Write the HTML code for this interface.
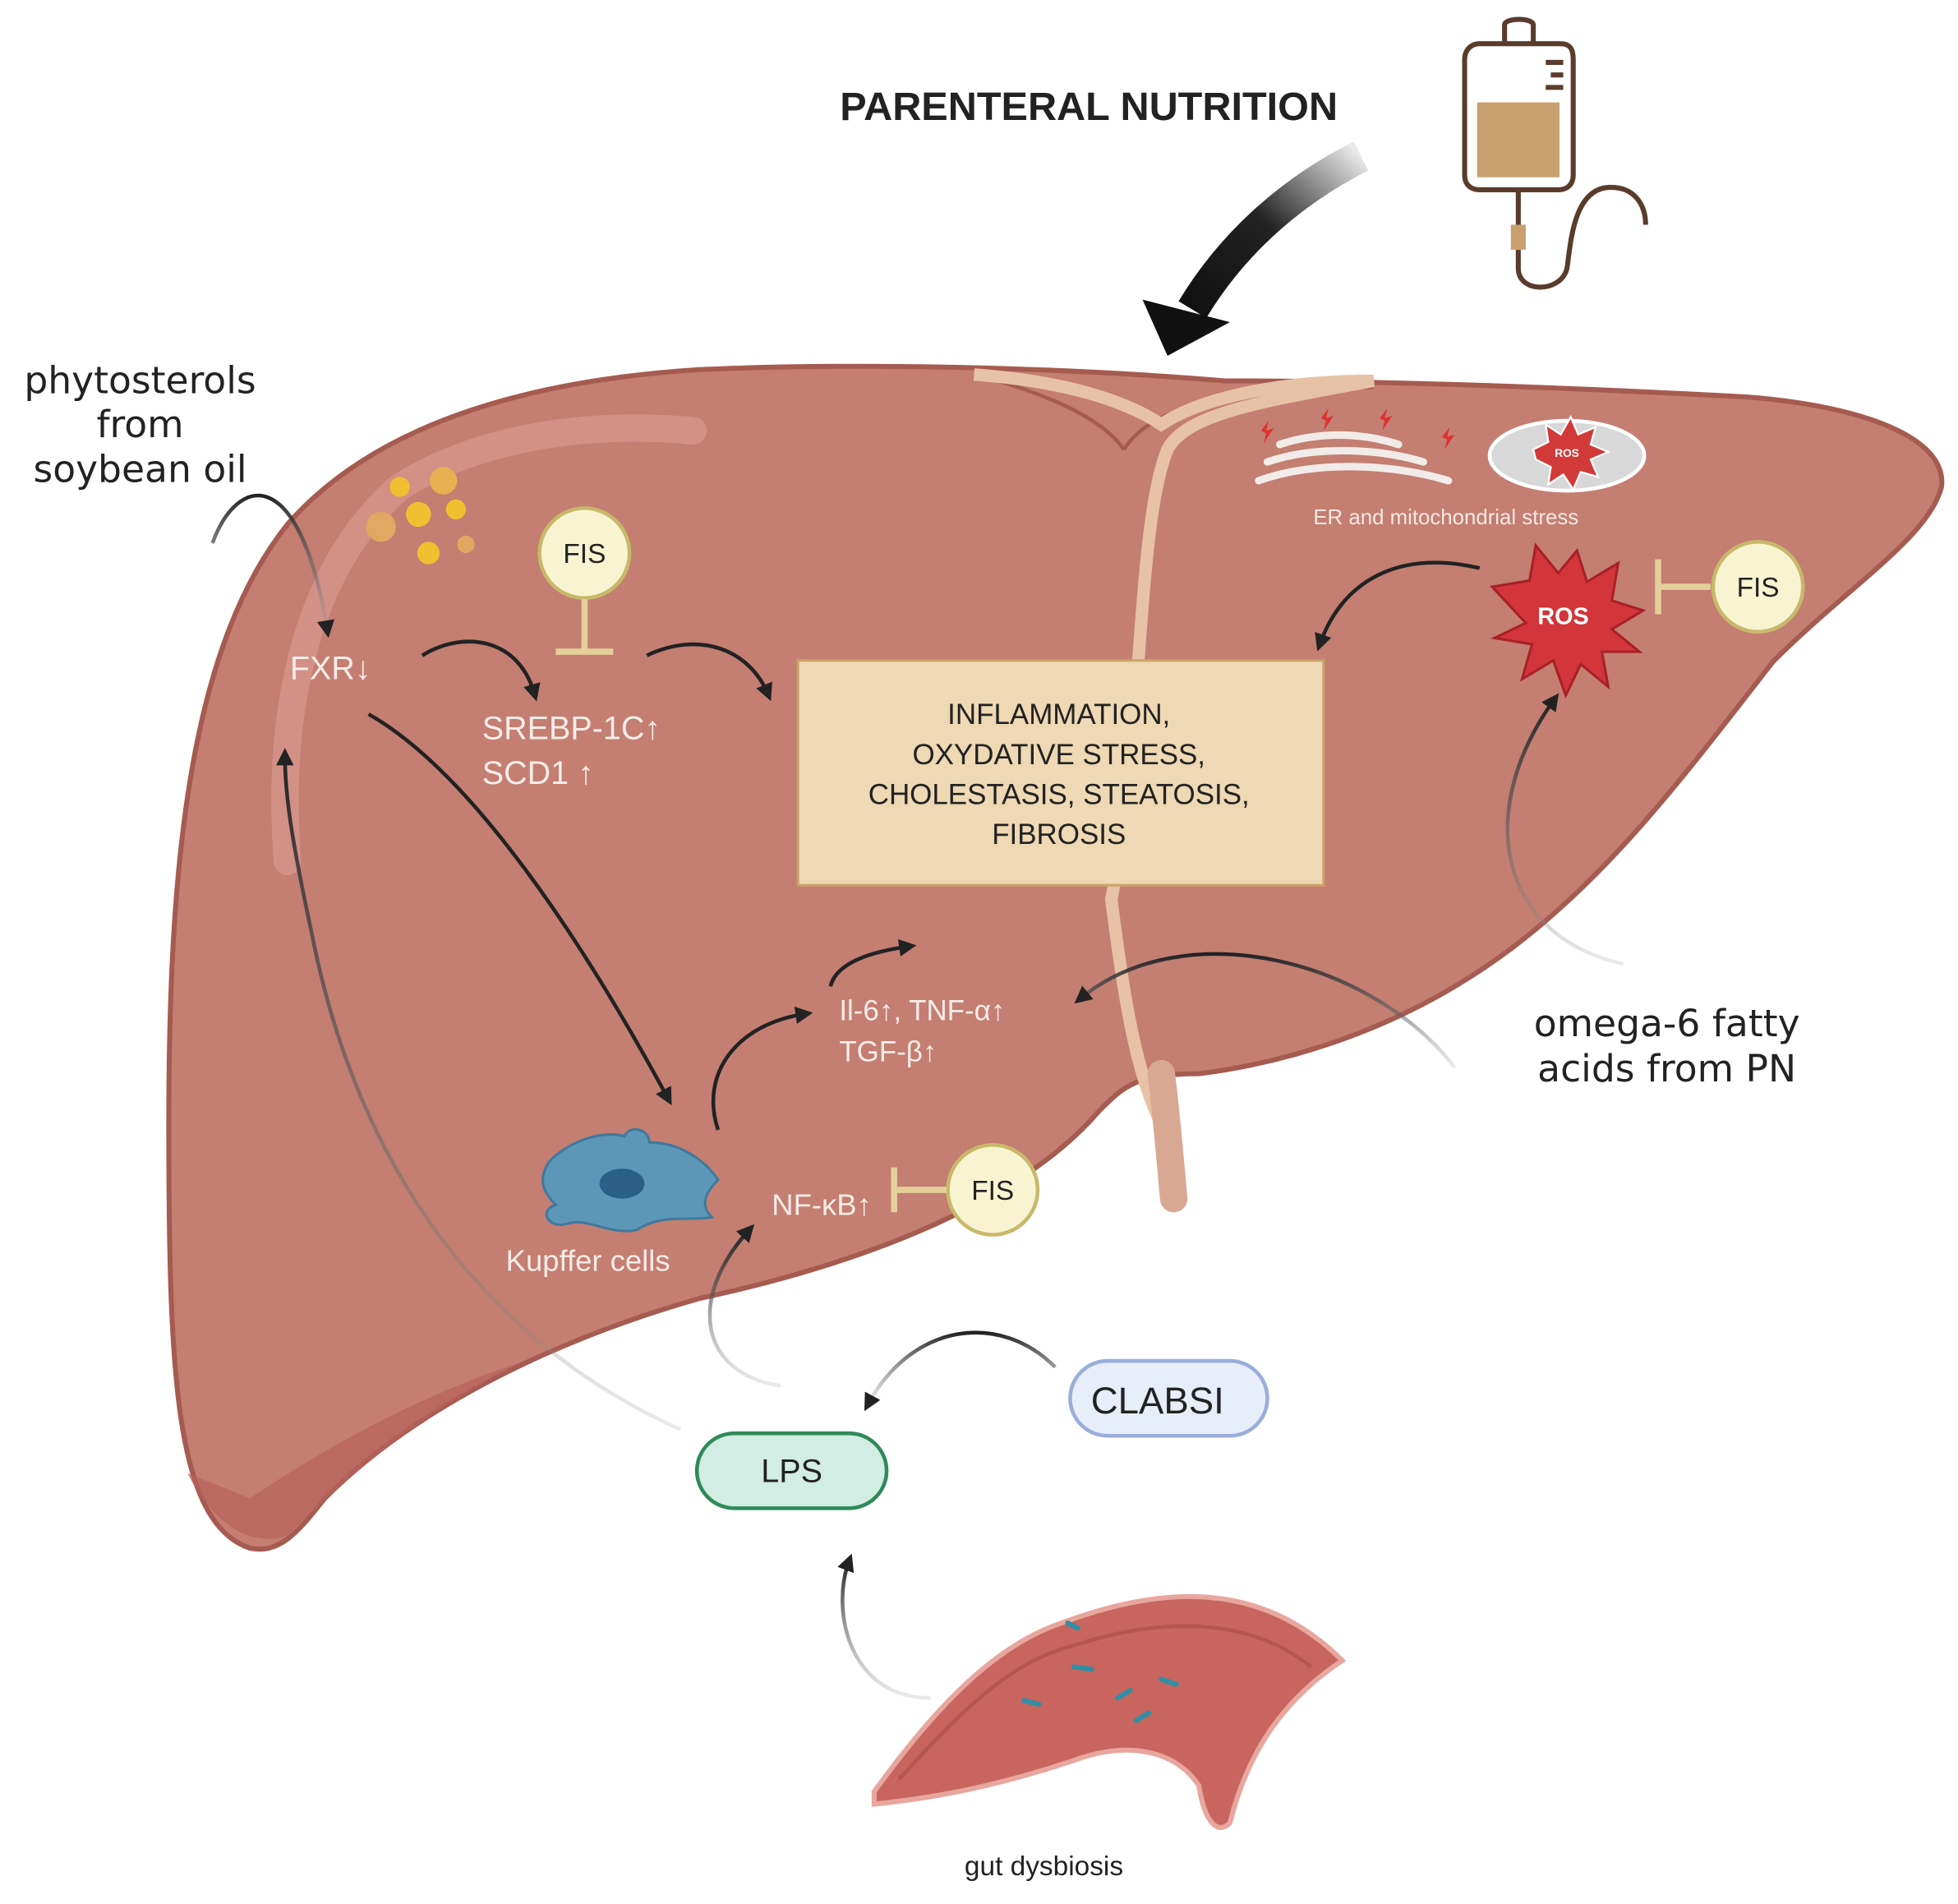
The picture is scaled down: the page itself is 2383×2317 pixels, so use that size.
<!DOCTYPE html>
<html><head><meta charset="utf-8"><style>
html,body{margin:0;padding:0;background:#fff;}
svg{display:block;}
text{font-family:"Liberation Sans","DejaVu Sans",sans-serif;}
</style></head><body>
<svg width="2383" height="2317" viewBox="0 0 1568 1525" xmlns="http://www.w3.org/2000/svg">
<defs>
<marker id="ah" markerWidth="16" markerHeight="16" refX="8" refY="7" orient="auto" markerUnits="userSpaceOnUse"><path d="M0,0 L14,7 L0,14 z" fill="#222"/></marker>
<linearGradient id="fadeL" x1="0" y1="1" x2="0" y2="0"><stop offset="0" stop-color="#999" stop-opacity="0.2"/><stop offset="1" stop-color="#222"/></linearGradient>
<linearGradient id="bigA" x1="1" y1="0" x2="0" y2="1"><stop offset="0" stop-color="#222" stop-opacity="0.1"/><stop offset="0.5" stop-color="#222"/><stop offset="1" stop-color="#111"/></linearGradient>
</defs>
<rect width="1568" height="1525" fill="#fff"/>
<path d="M200,1240 C140,1220 135,1100 135,900 C135,700 150,520 230,420 C300,340 420,305 560,296 C700,290 860,295 980,305 C1100,305 1250,310 1400,318 C1490,325 1560,350 1555,390 C1545,430 1480,470 1420,530 C1350,620 1290,700 1210,760 C1130,820 1040,850 960,860 C910,860 900,870 880,890 C820,960 700,1010 560,1040 C420,1080 320,1140 260,1200 C240,1225 225,1245 200,1240 Z" fill="#c47e72" stroke="#a65b50" stroke-width="4"/>
<path d="M150,1180 C170,1220 200,1240 230,1230 C280,1180 340,1130 420,1090 C330,1120 260,1160 200,1200 Z" fill="#b8625a" opacity="0.7"/>
<path d="M230,690 C220,560 250,450 320,390 C400,340 500,340 555,345" stroke="#d89890" stroke-width="22" fill="none" stroke-linecap="round" opacity="0.7"/>
<path d="M900,360 C880,330 820,310 780,300 M900,360 C920,330 960,315 1100,310" stroke="#a65b50" stroke-width="3" fill="none"/>
<path d="M780,300 C850,305 900,320 930,340 C960,320 1020,305 1100,305 C1020,320 950,330 935,360 C910,420 915,600 890,720 C900,800 910,860 930,900 C940,930 945,950 945,960" stroke="#e7c2a6" stroke-width="10" fill="none"/>
<path d="M930,860 C935,900 938,940 940,960" stroke="#d9a893" stroke-width="22" fill="none" stroke-linecap="round"/>
<g fill="#f0c030"><circle cx="320" cy="390" r="8"/><circle cx="355" cy="385" r="11" fill="#e8b050"/><circle cx="335" cy="412" r="10"/><circle cx="365" cy="408" r="8"/><circle cx="305" cy="422" r="12" fill="#e0a860"/><circle cx="343" cy="443" r="9"/><circle cx="373" cy="436" r="7" fill="#e0a860"/></g>
<g stroke="#f2ece8" stroke-width="6" fill="none" stroke-linecap="round"><path d="M1008,385 C1050,370 1110,370 1160,385"/><path d="M1015,370 C1050,358 1100,358 1140,370"/><path d="M1025,356 C1055,346 1090,346 1120,356"/></g>
<g fill="#e03030"><path d="M1010,345 l6,-8 -2,8 6,-2 -8,12 2,-8z"/><path d="M1058,335 l6,-8 -2,8 6,-2 -8,12 2,-8z"/><path d="M1105,335 l6,-8 -2,8 6,-2 -8,12 2,-8z"/><path d="M1155,350 l6,-8 -2,8 6,-2 -8,12 2,-8z"/></g>
<ellipse cx="1255" cy="365" rx="62" ry="28" fill="#d8d8d8" stroke="#fff" stroke-width="3"/>
<path d="M1228,360 l12,-6 -2,-14 12,8 8,-14 6,14 14,-6 -4,14 14,6 -14,6 6,14 -14,-4 -6,14 -8,-12 -12,8 2,-14 -12,-6z" fill="#d23a3a" stroke="#fff" stroke-width="1.5"/>
<text x="1255" y="366" font-size="9" fill="#fff" text-anchor="middle" font-weight="bold">ROS</text>
<text x="1158" y="420" font-size="17" fill="#f6e8e4" text-anchor="middle">ER and mitochondrial stress</text>
<path d="M1195,470 l30,-5 5,-28 18,22 15,-18 8,25 25,-15 -5,30 25,8 -25,15 22,18 -30,0 5,28 -22,-18 -12,25 -10,-28 -25,15 8,-28 -30,-5 25,-12z" fill="#d2363a" stroke="#a82025" stroke-width="2"/>
<text x="1252" y="500" font-size="19" fill="#fff" text-anchor="middle" font-weight="bold">ROS</text>
<g stroke="#c8b96a" stroke-width="3" fill="#f8f4d2">
<circle cx="468" cy="443" r="36"/><circle cx="1408" cy="470" r="36"/><circle cx="795" cy="953" r="36"/></g>
<g font-size="22" fill="#222" text-anchor="middle"><text x="468" y="451">FIS</text><text x="1408" y="478">FIS</text><text x="795" y="961">FIS</text></g>
<g stroke="#e5cf9a" stroke-width="5" fill="none"><path d="M468,480 V522 M445,522 H491"/><path d="M1370,470 H1328 M1328,448 V492"/><path d="M758,953 H716 M716,935 V971"/></g>
<rect x="639" y="529" width="421" height="180" fill="#efd8b4" stroke="#c9a46a" stroke-width="2"/>
<g font-size="23" fill="#222" text-anchor="middle"><text x="848" y="580">INFLAMMATION,</text><text x="848" y="612">OXYDATIVE STRESS,</text><text x="848" y="644">CHOLESTASIS, STEATOSIS,</text><text x="848" y="676">FIBROSIS</text></g>
<g font-size="26" fill="#f7ece8"><text x="232" y="544">FXR↓</text><text x="386" y="592">SREBP-1C↑</text><text x="386" y="628">SCD1 ↑</text><text x="672" y="817" font-size="23">Il-6↑, TNF-α↑</text><text x="672" y="850" font-size="23">TGF-β↑</text><text x="618" y="973" font-size="24">NF-κB↑</text><text x="405" y="1018" font-size="24">Kupffer cells</text></g>
<path d="M440,930 C455,915 480,905 500,910 C505,900 520,905 520,915 C545,915 565,930 575,945 C565,955 560,965 570,975 C550,978 530,972 510,985 C490,990 470,975 455,980 C440,985 430,970 445,965 C435,955 430,945 440,930 Z" fill="#5d97b8" stroke="#3f7a9c" stroke-width="2"/>
<ellipse cx="498" cy="948" rx="18" ry="12" fill="#2a5f86"/>
<g stroke="#222" stroke-width="3" fill="none" marker-end="url(#ah)">
<path d="M338,525 C370,505 415,510 428,556"/>
<path d="M518,525 C560,505 600,520 615,556"/>
<path d="M295,572 C380,620 470,760 535,880"/>
<path d="M575,905 C560,860 590,820 645,812"/>
<path d="M665,790 C670,770 700,762 728,758"/>
<path d="M1185,455 C1120,440 1075,465 1057,516"/>
</g>
<g stroke="url(#fadeL)" stroke-width="3" fill="none" marker-end="url(#ah)">
<path d="M545,1145 C400,1080 290,950 250,750 C235,680 228,640 228,605"/>
<path d="M170,435 C190,380 240,370 262,505"/>
<path d="M1300,772 C1200,750 1180,650 1245,560"/>
<path d="M1165,855 C1100,770 950,730 865,800"/>
<path d="M625,1110 C560,1100 550,1040 600,985"/>
<path d="M845,1095 C800,1050 730,1060 695,1125"/>
<path d="M745,1360 C680,1360 665,1290 680,1250"/>
</g>
<path d="M1090,125 C1040,150 990,190 955,248" stroke="url(#bigA)" stroke-width="26" fill="none"/>
<path d="M915,240 L985,258 L935,285 Z" fill="#111"/>
<g stroke="#5a3c2c" stroke-width="4" fill="none">
<path d="M1185,35 H1250 C1258,35 1260,40 1260,48 V140 C1260,148 1255,152 1248,152 H1185 C1178,152 1173,148 1173,140 V48 C1173,40 1178,35 1185,35 Z"/>
<path d="M1205,35 V20 C1205,14 1228,14 1228,20 V35"/>
<path d="M1216,152 V180 M1216,200 V215 C1216,235 1250,235 1255,215 C1258,195 1260,150 1290,150 C1310,150 1318,165 1318,180"/>
<path d="M1238,50 H1252 M1242,60 H1252 M1238,70 H1252"/>
</g>
<rect x="1183" y="82" width="66" height="60" fill="#c9a06f"/>
<rect x="1210" y="180" width="12" height="20" fill="#c9a06f"/>
<text x="872" y="96" font-size="32" font-weight="bold" fill="#222" text-anchor="middle">PARENTERAL NUTRITION</text>
<g font-size="30" fill="#222" text-anchor="middle"><text x="112" y="315" style="font-family:'DejaVu Sans',sans-serif">phytosterols</text><text x="112" y="350" style="font-family:'DejaVu Sans',sans-serif">from</text><text x="112" y="386" style="font-family:'DejaVu Sans',sans-serif">soybean oil</text>
<text x="1335" y="830" style="font-family:'DejaVu Sans',sans-serif">omega-6 fatty</text><text x="1335" y="866" style="font-family:'DejaVu Sans',sans-serif">acids from PN</text></g>
<rect x="857" y="1090" width="158" height="60" rx="30" fill="#e8eef9" stroke="#9aaedb" stroke-width="3"/>
<text x="927" y="1132" font-size="30" fill="#222" text-anchor="middle">CLABSI</text>
<rect x="558" y="1148" width="152" height="60" rx="30" fill="#d2ede3" stroke="#2e8a5a" stroke-width="3"/>
<text x="634" y="1187" font-size="26" fill="#222" text-anchor="middle">LPS</text>
<path d="M700,1435 C740,1380 790,1320 850,1300 C930,1270 1010,1265 1075,1330 C1030,1360 1000,1400 985,1460 C975,1470 965,1460 960,1430 C940,1400 900,1395 860,1410 C800,1430 750,1440 700,1445 Z" fill="#c7655e" stroke="#e8a69e" stroke-width="4"/>
<path d="M720,1425 C770,1370 810,1330 860,1318 C930,1295 1000,1295 1050,1335" stroke="#b4554f" stroke-width="3" fill="none"/>
<g stroke="#2e8fa5" stroke-width="4" stroke-linecap="round"><path d="M855,1300 l8,4"/><path d="M820,1362 l12,3"/><path d="M895,1360 l10,-6"/><path d="M910,1378 l10,-6"/><path d="M860,1335 l14,2"/><path d="M930,1345 l12,4"/></g>
<text x="836" y="1502" font-size="22" fill="#222" text-anchor="middle">gut dysbiosis</text>
</svg>
</body></html>
